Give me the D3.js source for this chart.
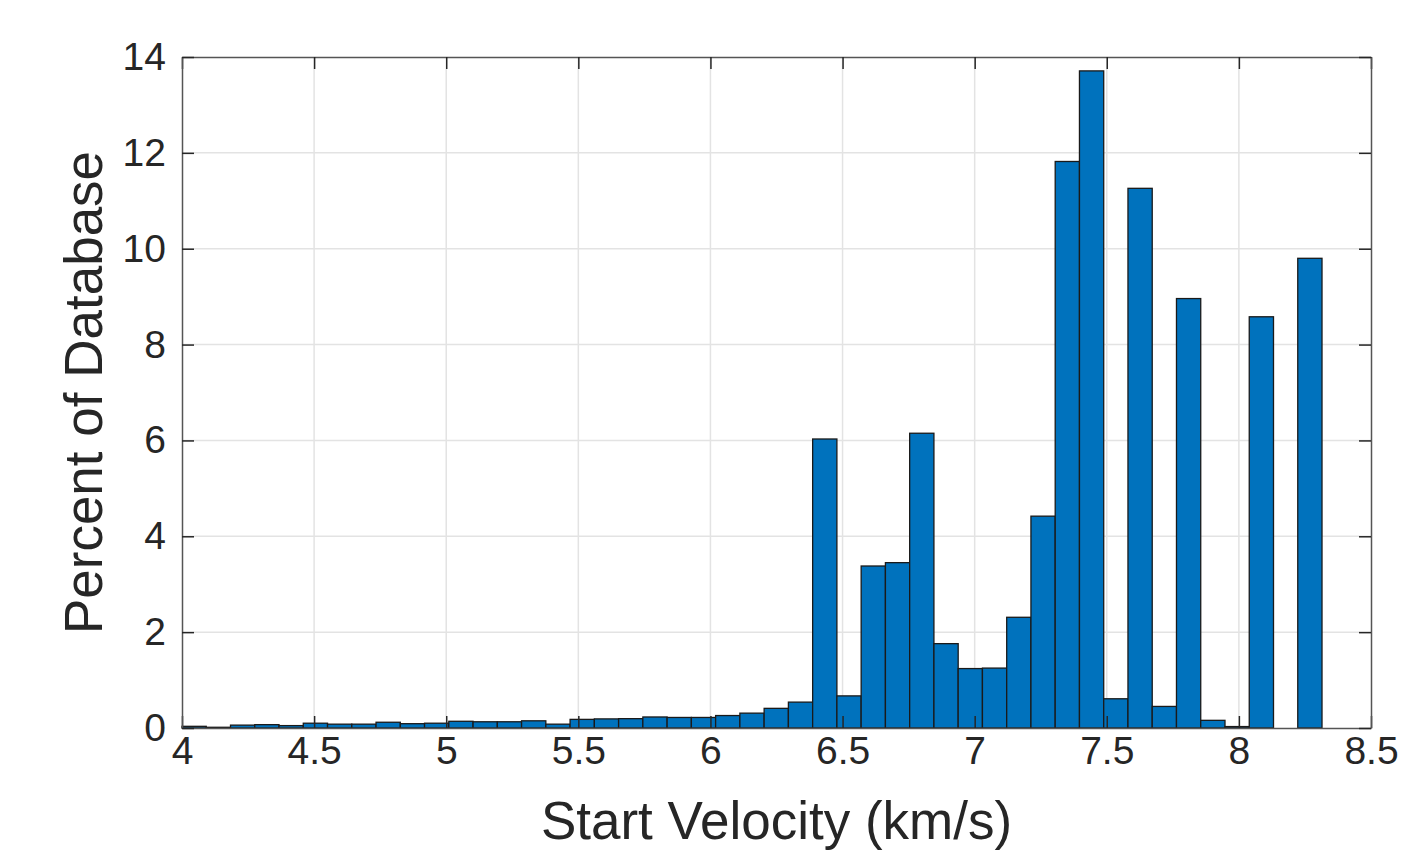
<!DOCTYPE html>
<html>
<head>
<meta charset="utf-8">
<script src="https://cdn.jsdelivr.net/npm/d3@7"></script>
<style>
  body { margin: 0; background: #fff; }
  text { font-family: "Liberation Sans", Arial, sans-serif; fill: #262626; }
</style>
</head>
<body>
<div id="chart"></div>
<script>
// histogram: bins start at 4 km/s, fixed width
var binStart = 4.0;
var binWidth = 0.0918;
var percents = [
  0.035, 0.015, 0.06, 0.07, 0.05, 0.10, 0.08, 0.08, 0.12, 0.09,
  0.10, 0.14, 0.13, 0.13, 0.15, 0.08, 0.18, 0.19, 0.195, 0.23,
  0.22, 0.22, 0.26, 0.31, 0.41, 0.54, 6.03, 0.67, 3.38, 3.45,
  6.15, 1.76, 1.24, 1.25, 2.31, 4.42, 11.82, 13.71, 0.61, 11.26,
  0.45, 8.96, 0.16, 0.03, 8.58, 0, 9.80
];
var xTicks = [4, 4.5, 5, 5.5, 6, 6.5, 7, 7.5, 8, 8.5];
var yTicks = [0, 2, 4, 6, 8, 10, 12, 14];

var width = 1411, height = 853;
var margin = {left: 182, right: 40, top: 57, bottom: 125};

var svg = d3.select("#chart").append("svg")
    .attr("width", width)
    .attr("height", height);

var x = d3.scaleLinear().domain([4, 8.5]).range([margin.left, width - margin.right]);
var y = d3.scaleLinear().domain([0, 14]).range([height - margin.bottom, margin.top]);

var bins = percents.map(function(v, i) {
    return {x0: binStart + i * binWidth, x1: binStart + (i + 1) * binWidth, v: v};
});

// grid
svg.append("g").selectAll("line.gx")
    .data(xTicks.slice(1, -1))
    .enter().append("line")
    .attr("x1", d => x(d)).attr("x2", d => x(d))
    .attr("y1", y(0)).attr("y2", y(14))
    .style("stroke", "#e3e3e3").style("stroke-width", 1.5);
svg.append("g").selectAll("line.gy")
    .data(yTicks.slice(1, -1))
    .enter().append("line")
    .attr("x1", x(4)).attr("x2", x(8.5))
    .attr("y1", d => y(d)).attr("y2", d => y(d))
    .style("stroke", "#e3e3e3").style("stroke-width", 1.5);

// bars
svg.append("g").selectAll("rect")
    .data(bins.filter(d => d.v > 0))
    .enter().append("rect")
    .attr("x", d => x(d.x0))
    .attr("width", d => x(d.x1) - x(d.x0))
    .attr("y", d => y(d.v))
    .attr("height", d => y(0) - y(d.v))
    .style("fill", "#0072BD")
    .style("stroke", "#1a1a1a")
    .style("stroke-width", 1.3);

// axes (ticks inside, box on)
var tk = 12;
var xAxisB = d3.axisBottom(x).tickValues(xTicks).tickSizeInner(-tk).tickSizeOuter(0).tickPadding(8).tickFormat(d3.format("~g"));
var xAxisT = d3.axisTop(x).tickValues(xTicks).tickSizeInner(-tk).tickSizeOuter(0).tickFormat("");
var yAxisL = d3.axisLeft(y).tickValues(yTicks).tickSizeInner(-tk).tickSizeOuter(0).tickPadding(16);
var yAxisR = d3.axisRight(y).tickValues(yTicks).tickSizeInner(-tk).tickSizeOuter(0).tickFormat("");

function styleAxis(g) {
    g.select(".domain").style("stroke", "#555").style("stroke-width", 1.5);
    g.selectAll(".tick line").style("stroke", "#262626").style("stroke-width", 1.5);
    g.selectAll(".tick text").style("font-family", "Liberation Sans, Arial, sans-serif")
        .style("font-size", "39px").style("fill", "#262626");
}

svg.append("g").attr("transform", "translate(0," + y(0) + ")").call(xAxisB).call(styleAxis);
svg.append("g").attr("transform", "translate(0," + y(14) + ")").call(xAxisT).call(styleAxis);
svg.append("g").attr("transform", "translate(" + x(4) + ",0)").call(yAxisL).call(styleAxis);
svg.append("g").attr("transform", "translate(" + x(8.5) + ",0)").call(yAxisR).call(styleAxis);

// labels
svg.append("text")
    .attr("x", (x(4) + x(8.5)) / 2)
    .attr("y", 839)
    .attr("text-anchor", "middle")
    .style("font-size", "53px")
    .text("Start Velocity (km/s)");

svg.append("text")
    .attr("transform", "translate(102," + (y(0) + y(14)) / 2 + ") rotate(-90)")
    .attr("text-anchor", "middle")
    .style("font-size", "53px")
    .text("Percent of Database");
</script>
</body>
</html>
